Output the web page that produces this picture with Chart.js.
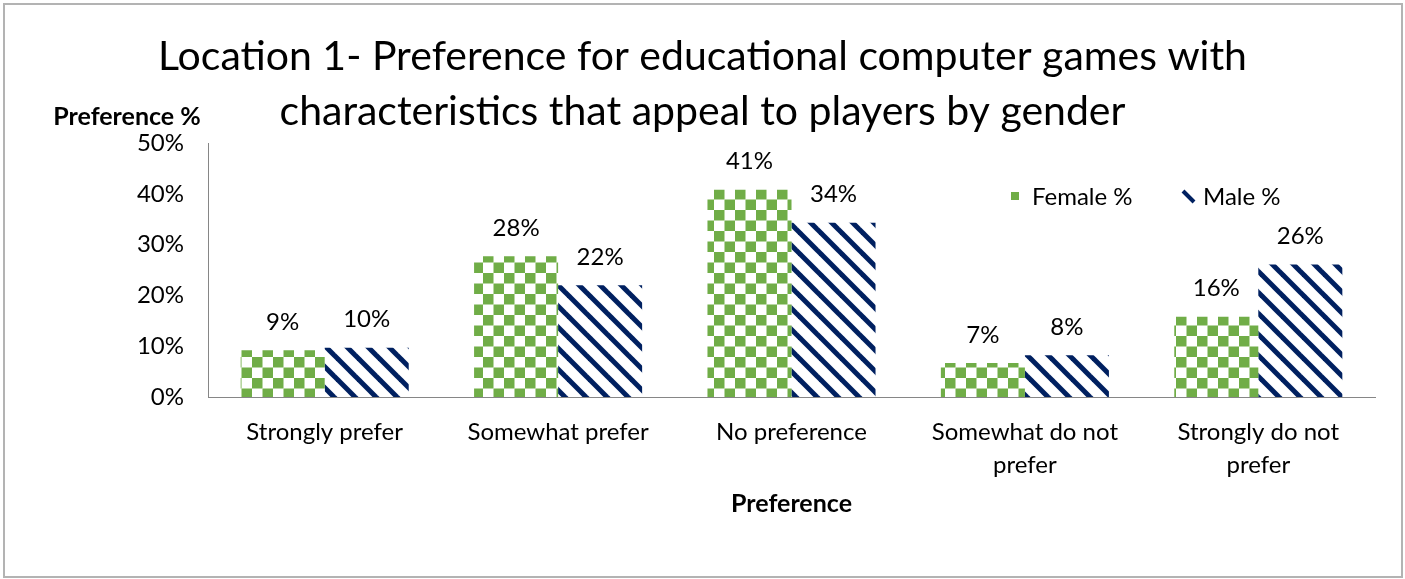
<!DOCTYPE html>
<html><head><meta charset="utf-8">
<script src="https://cdn.jsdelivr.net/npm/chart.js@4.4.1/dist/chart.umd.min.js"></script>
<style>html,body{margin:0;padding:0;background:#fff;}#wrap{width:1405px;height:579px;position:relative}</style>
</head><body><div id="wrap"><canvas id="c" width="1405" height="579"></canvas></div>
<script>
// ---- data ----
const categories = [['Strongly prefer'], ['Somewhat prefer'], ['No preference'], ['Somewhat do not', 'prefer'], ['Strongly do not', 'prefer']];
const seriesNames = ['Female %', 'Male %'];
const femaleValues = [9.2, 27.7, 40.8, 6.7, 15.8];
const maleValues = [9.7, 22.0, 34.3, 8.2, 26.1];
const yTicks = [0, 10, 20, 30, 40, 50];
const titleLines = ['Location 1- Preference for educational computer games with', 'characteristics that appeal to players by gender'];
const xTitle = 'Preference';
const yTitle = 'Preference %';

const FONT = 'Lato, "Open Sans", sans-serif';
const ctx0 = document.getElementById('c').getContext('2d');

function checkerPattern() {
  const t = document.createElement('canvas'); t.width = 21; t.height = 21;
  const g = t.getContext('2d');
  g.fillStyle = '#fff'; g.fillRect(0, 0, 21, 21);
  g.fillStyle = '#70AD47';
  g.fillRect(0, 0, 10.5, 10.5); g.fillRect(10.5, 10.5, 10.5, 10.5);
  return ctx0.createPattern(t, 'repeat');
}
function stripePattern() {
  const t = document.createElement('canvas'); t.width = 21; t.height = 21;
  const g = t.getContext('2d');
  g.fillStyle = '#fff'; g.fillRect(0, 0, 21, 21);
  g.strokeStyle = '#002060'; g.lineWidth = 5;
  for (let k = -2; k <= 2; k++) {
    g.beginPath(); g.moveTo(k * 21 - 10, -10); g.lineTo(k * 21 + 31, 31); g.stroke();
  }
  return ctx0.createPattern(t, 'repeat');
}

const decor = {
  id: 'decor',
  afterLayout(chart) {
    // center the title on the whole canvas, like the reference
    if (chart.titleBlock) { chart.titleBlock.left = 0; chart.titleBlock.right = chart.width; chart.titleBlock.width = chart.width; }
  },
  beforeDraw(chart) {
    const c = chart.ctx;
    c.save();
    c.fillStyle = '#fff'; c.fillRect(0, 0, chart.width, chart.height);
    c.strokeStyle = '#b3b3b3'; c.lineWidth = 2;
    c.strokeRect(4, 4, 1398, 573);
    c.restore();
  },
  afterDraw(chart) {
    const c = chart.ctx;
    c.save();
    // y axis title (horizontal, top-left)
    c.font = 'bold 25px ' + FONT; c.fillStyle = '#000';
    c.textAlign = 'center'; c.textBaseline = 'middle';
    c.fillText(yTitle, 127, 117);
    // data labels
    c.font = '24px ' + FONT;
    chart.data.datasets.forEach((ds, i) => {
      chart.getDatasetMeta(i).data.forEach((bar, j) => {
        c.fillText(Math.round(ds.data[j]) + '%', bar.x, bar.y - 28);
      });
    });
    // legend inside plot
    const legendX = [1011, 1182];
    chart.data.datasets.forEach((ds, i) => {
      if (i === 0) { c.fillStyle = '#70AD47'; c.fillRect(legendX[i], 192, 8, 8); }
      else {
        c.strokeStyle = '#002060'; c.lineWidth = 4;
        c.beginPath(); c.moveTo(legendX[i] + 1, 191); c.lineTo(legendX[i] + 12, 202); c.stroke();
      }
      c.fillStyle = '#000'; c.textAlign = 'left';
      c.fillText(ds.label, legendX[i] + 21, 197);
    });
    c.restore();
  }
};

new Chart(ctx0, {
  type: 'bar',
  data: {
    labels: categories,
    datasets: [
      { label: seriesNames[0], data: femaleValues, backgroundColor: checkerPattern(), borderWidth: 0 },
      { label: seriesNames[1], data: maleValues, backgroundColor: stripePattern(), borderWidth: 0 }
    ]
  },
  options: {
    responsive: false, animation: false, devicePixelRatio: 1,
    layout: { padding: { left: 0, right: 30, top: 0, bottom: 0 } },
    categoryPercentage: 0.72, barPercentage: 1.0,
    plugins: {
      legend: { display: false },
      tooltip: { enabled: false },
      title: {
        display: true, text: titleLines, color: '#000',
        font: { family: FONT, size: 41, weight: 'normal', lineHeight: 55 / 41 },
        padding: { top: 29.5, bottom: 3.5 }
      }
    },
    scales: {
      x: {
        grid: { display: false, drawTicks: false },
        border: { display: true, color: '#868686', width: 1 },
        ticks: { color: '#000', font: { family: FONT, size: 24, lineHeight: 33 / 24 }, padding: 18.5, maxRotation: 0, autoSkip: false },
        title: { display: true, text: xTitle, color: '#000', font: { family: FONT, size: 25, weight: 'bold', lineHeight: 1.2 }, padding: { top: 0, bottom: 60 } },
        afterFit(s) { s.height = 182; }
      },
      y: {
        min: 0, max: 50,
        afterBuildTicks(s) { s.ticks = yTicks.map(v => ({ value: v })); },
        grid: { display: false, drawTicks: false },
        border: { display: true, color: '#868686', width: 1 },
        ticks: { color: '#000', font: { family: FONT, size: 24 }, padding: 24, callback: v => v + '%' },
        afterFit(s) { s.width = 208; }
      }
    }
  },
  plugins: [decor]
});
</script></body></html>
